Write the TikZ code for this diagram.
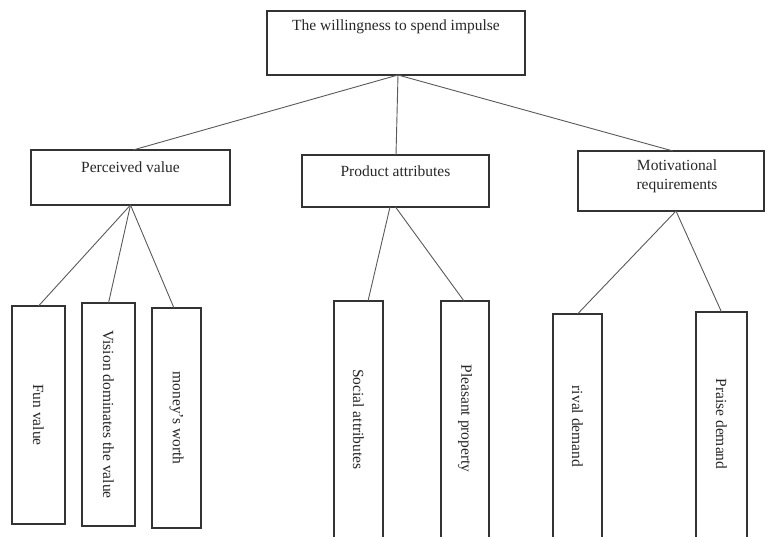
\documentclass[tikz,border=0pt]{standalone}
\usepackage{fontspec}
\setmainfont{Liberation Serif}
\usetikzlibrary{calc}
\tikzset{
  box/.style={draw=black!80, line width=1.6pt, inner sep=0pt, outer sep=0pt, rectangle},
  lbl/.style={inner sep=0pt, font=\fontsize{15.5}{19}\selectfont, text=black!85, align=center},
  vlbl/.style={lbl, rotate=-90},
  conn/.style={draw=black!65, line width=0.9pt}
}
\begin{document}
\begin{tikzpicture}[x=1pt,y=-1pt]
\useasboundingbox (0,0) rectangle (765,536);
\clip (0,0) rectangle (765,536);
% boxes
\node[box, minimum width=258, minimum height=64] (top) at (396,43) {};
\node[box, minimum width=199, minimum height=55] (pv) at (130.5,177.5) {};
\node[box, minimum width=187, minimum height=52] (pa) at (395.5,181) {};
\node[box, minimum width=186, minimum height=60] (mr) at (671,181) {};
\node[box, minimum width=53, minimum height=218] (fun) at (38.5,415) {};
\node[box, minimum width=53, minimum height=223] (vis) at (108.5,414.5) {};
\node[box, minimum width=49, minimum height=220] (mon) at (176.5,418) {};
\node[box, minimum width=49, minimum height=237] (soc) at (358.5,419.5) {};
\node[box, minimum width=48, minimum height=237] (ple) at (465,419.5) {};
\node[box, minimum width=49, minimum height=226] (riv) at (577.5,427) {};
\node[box, minimum width=51, minimum height=226] (pra) at (721.5,425) {};
% labels
\node[lbl] (ttop) at (396,27) {The willingness to spend impulse};
\node[lbl] (tpv) at (130.5,167) {Perceived value};
\node[lbl] (tpa) at (395.5,171) {Product attributes};
\node[lbl] (tmr) at (677,176.5) {Motivational\\requirements};
\node[vlbl] (tfun) at (fun.center) {Fun value};
\node[vlbl] (tvis) at (vis.center) {Vision dominates the value};
\node[vlbl] (tmon) at (mon.center) {money's worth};
\node[vlbl] (tsoc) at (358.5,419.5) {Social attributes};
\node[vlbl] (tple) at (465,418.5) {Pleasant property};
\node[vlbl] (triv) at (577.5,426.5) {rival demand};
\node[vlbl] (tpra) at (721.5,424) {Praise demand};
% connectors
\draw[conn] ($(top.south)+(2,0)$) -- ($(pv.north)+(2.5,0)$);
\draw[conn] ($(top.south)+(2,0)$) -- ($(pa.north)+(0.5,0)$);
\draw[conn] ($(top.south)+(2,0)$) -- ($(mr.north)+(2,0)$);
\draw[conn] (pv.south) -- (fun.north);
\draw[conn] (pv.south) -- (vis.north);
\draw[conn] (pv.south) -- ($(mon.north)+(-2.5,0)$);
\draw[conn] ($(pa.south)+(-5.5,0)$) -- ($(soc.north)+(9.5,0)$);
\draw[conn] (pa.south) -- ($(ple.north)+(-1,0)$);
\draw[conn] ($(mr.south)+(5,0)$) -- (riv.north);
\draw[conn] ($(mr.south)+(5,0)$) -- (pra.north);
\end{tikzpicture}
\end{document}
